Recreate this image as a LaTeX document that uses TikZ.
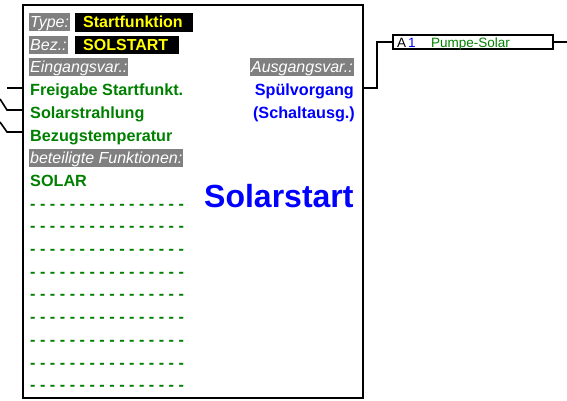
\documentclass[tikz,border=0pt]{standalone}
\usepackage{fontspec}
\setmainfont{Liberation Sans}
\definecolor{fgreen}{RGB}{0,128,0}
\definecolor{fblue}{RGB}{0,0,255}
\definecolor{lgray}{RGB}{128,128,128}
\definecolor{fyellow}{RGB}{255,255,0}
\tikzset{
  txt/.style={anchor=base west,inner sep=0pt,font=\fontsize{16}{18}\selectfont},
  graylab/.style={txt,fill=lgray,text=white,inner xsep=1pt,text height=14.5pt,text depth=3.5pt,font=\fontsize{16}{18}\selectfont\itshape},
  blacklab/.style={txt,fill=black,text=fyellow,inner xsep=8pt,text height=14.5pt,text depth=4pt,font=\fontsize{16}{18}\selectfont\bfseries},
  grn/.style={txt,text=fgreen,font=\fontsize{16.2}{18}\selectfont\bfseries},
  blu/.style={anchor=base east,inner sep=0pt,text=fblue,font=\fontsize{16.2}{18}\selectfont\bfseries},
  wire/.style={draw=black,line width=1.6pt},
  small/.style={anchor=base west,inner sep=0pt,font=\fontsize{13.5}{15}\selectfont},
}
\begin{document}
\begin{tikzpicture}[x=1pt,y=-1pt]
\useasboundingbox (0,0) rectangle (567,400);
% main block
\node[draw,line width=2pt,minimum width=340pt,minimum height=393pt,inner sep=0pt,anchor=north west] (main) at (22,4) {};
% header rows
\node[graylab] (type) at (29,27.5) {Type:};
\node[blacklab] (typev) at (75,27.5) {Startfunktion\kern2pt};
\node[graylab] (bez) at (29,50.2) {Bez.:};
\node[blacklab] (bezv) at (75,50.2) {SOLSTART\kern3pt};
\node[graylab] (ein) at (29,72.9) {Eingangsvar.:};
\node[graylab,anchor=base east] (aus) at (354,72.9) {Ausgangsvar.:};
% inputs
\node[grn] (in1) at (30,95.6) {Freigabe Startfunkt.};
\node[grn] (in2) at (30,118.3) {Solarstrahlung};
\node[grn] (in3) at (30,141) {Bezugstemperatur};
% outputs
\node[blu] (out1) at (354,95.6) {Spülvorgang};
\node[blu] (out2) at (355,118.3) {(Schaltausg.)};
% functions
\node[graylab] (bet) at (29,163.7) {beteiligte Funktionen:};
\node[grn] (sol) at (30,186.4) {SOLAR};
\foreach \k in {8,...,16}{
  \node[grn] (d\k) at (30,{27.5+22.7*\k}) {- - - - - - - - - - - - - - - -};
}
\node[anchor=base west,inner sep=0pt,text=fblue,font=\fontsize{32}{35}\selectfont\bfseries] (title) at (204,207.5) {Solarstart};
% input wires
\coordinate (a1) at (7,88);
\coordinate (b2) at (0,99);
\coordinate (a2) at (7,110);
\coordinate (b3) at (0,122);
\coordinate (a3) at (7,132);
\draw[wire] (a1) -- (a1 -| main.west);
\draw[wire] (b2) -- (a2) -- (a2 -| main.west);
\draw[wire] (b3) -- (a3) -- (a3 -| main.west);
% output block
\node[draw,line width=1.6pt,minimum width=160pt,minimum height=14pt,inner sep=0pt] (pump) at (473,42) {};
\node[small] (pa) at (397,47) {A};
\node[small,text=fblue] (pn) at (408,47) {1};
\node[small,text=fgreen] (pt) at (431,47) {Pumpe-Solar};
\coordinate (o1) at (362,88);
\coordinate (o2) at (377,88);
\coordinate (pe) at (567,42);
\draw[wire] (o1) -- (o2) |- (pump.west);
\draw[wire] (pump.east) -- (pe);
\end{tikzpicture}
\end{document}
